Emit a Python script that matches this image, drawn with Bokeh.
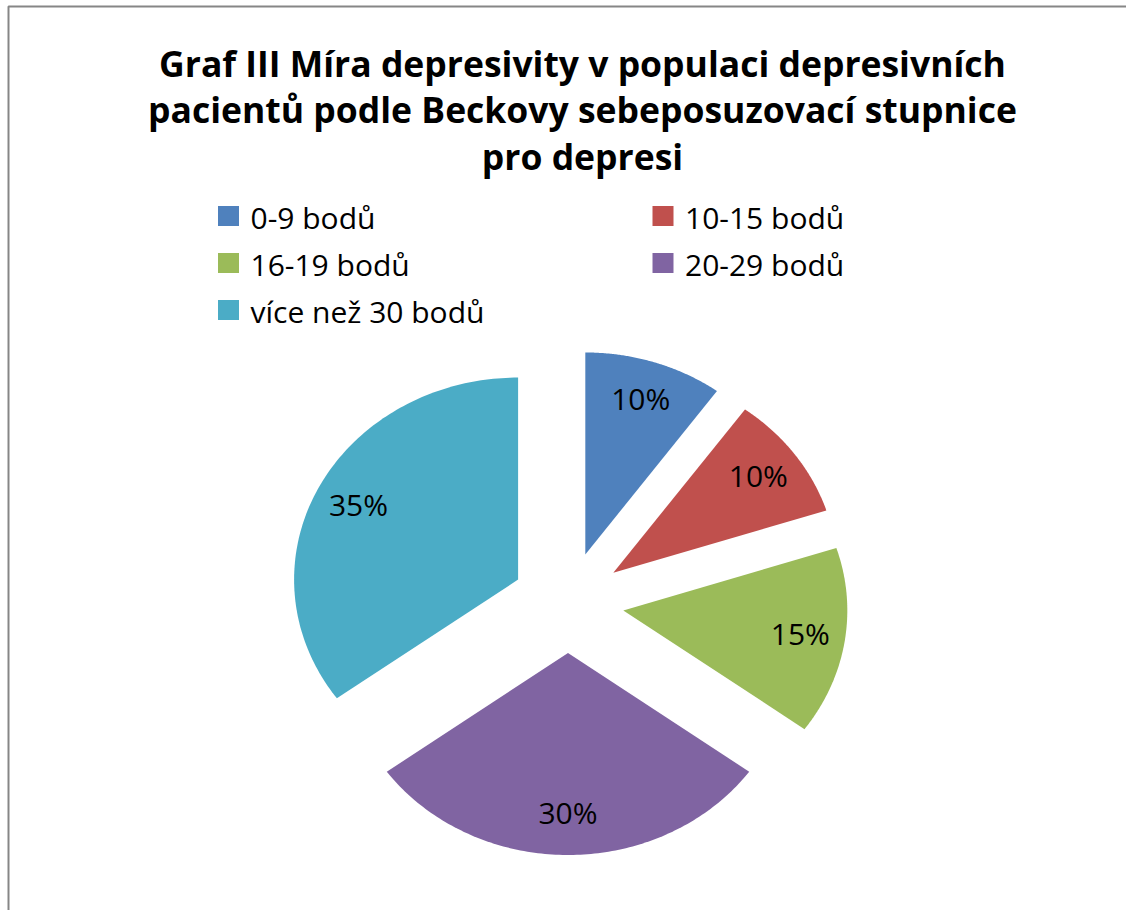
import numpy as np
from bokeh.plotting import figure
from bokeh.models import Range1d
from bokeh.core.properties import value
from bokeh.embed import file_html
from bokeh.resources import INLINE

# ---- data ----
categories = ["0-9 bodů", "10-15 bodů", "16-19 bodů", "20-29 bodů", "více než 30 bodů"]
percent = [10, 10, 15, 30, 35]
colors = ["#4F81BD", "#C0504D", "#9BBB59", "#8064A2", "#4BACC6"]
title_lines = ["Graf III Míra depresivity v populaci depresivních",
               "pacientů podle Beckovy sebeposuzovací stupnice",
               "pro depresi"]

# ---- layout (pixel-like coordinates, y downward) ----
W, H = 1126, 910
CX, CY = 567.5, 602.0
RX, RY = 224.0, 202.0
EXPLODE = 0.25
LABEL_R = 0.80
FONT = "Open Sans"

p = figure(width=W, height=H, x_range=Range1d(0, W), y_range=Range1d(H, 0),
           output_backend="svg", toolbar_location=None, min_border=0,
           x_axis_type=None, y_axis_type=None, background_fill_color="white",
           border_fill_color="white")
p.grid.visible = False
p.outline_line_color = None

# outer frame (only top & left visible in window)
p.quad(left=[8], right=[W + 20], top=[6], bottom=[H + 20], fill_color=None,
       line_color="#868686", line_width=2)

# ---- pie slices (exploded, drawn as patches) ----
vals = np.array(percent, dtype=float)
fr = vals / vals.sum()
ends = np.cumsum(fr) * 2 * np.pi
starts = ends - fr * 2 * np.pi
xs, ys, lx, ly, labels = [], [], [], [], []
for a0, a1, v in zip(starts, ends, percent):
    m = 0.5 * (a0 + a1)
    ax = CX + EXPLODE * RX * np.sin(m)
    ay = CY - EXPLODE * RY * np.cos(m)
    t = np.linspace(a0, a1, 120)
    xs.append(np.concatenate([[ax], ax + RX * np.sin(t)]).tolist())
    ys.append(np.concatenate([[ay], ay - RY * np.cos(t)]).tolist())
    lx.append(ax + LABEL_R * RX * np.sin(m))
    ly.append(ay - LABEL_R * RY * np.cos(m) - 2)
    labels.append(f"{v}%")

p.patches(xs=xs, ys=ys, fill_color=colors, line_color=None)
p.text(x=lx, y=ly, text=labels, text_align="center", text_baseline="middle",
       text_font=value(FONT), text_font_size="30px", text_color="#000000")

# ---- title ----
p.text(x=[582] * 3, y=[62, 108.5, 155], text=title_lines, text_align="center",
       text_baseline="alphabetic", text_font=value(FONT), text_font_size="35.5px",
       text_font_style="bold", text_color="#000000")

# ---- legend ----
col_x = [228, 662.5]
row_y = [215.5, 262.5, 309.5]
sq_x, sq_y, tx, ty = [], [], [], []
for i, cat in enumerate(categories):
    c, r = i % 2, i // 2
    sq_x.append(col_x[c]); sq_y.append(row_y[r])
    tx.append(col_x[c] + 22); ty.append(row_y[r] + 1)
p.rect(x=sq_x, y=sq_y, width=21, height=20, width_units="screen",
       height_units="screen", fill_color=colors, line_color=None)
p.text(x=tx, y=ty, text=categories, text_align="left", text_baseline="alphabetic",
       text_font=value(FONT), text_font_size="30px", text_color="#000000")

open("out.html", "w").write(file_html(p, INLINE))
